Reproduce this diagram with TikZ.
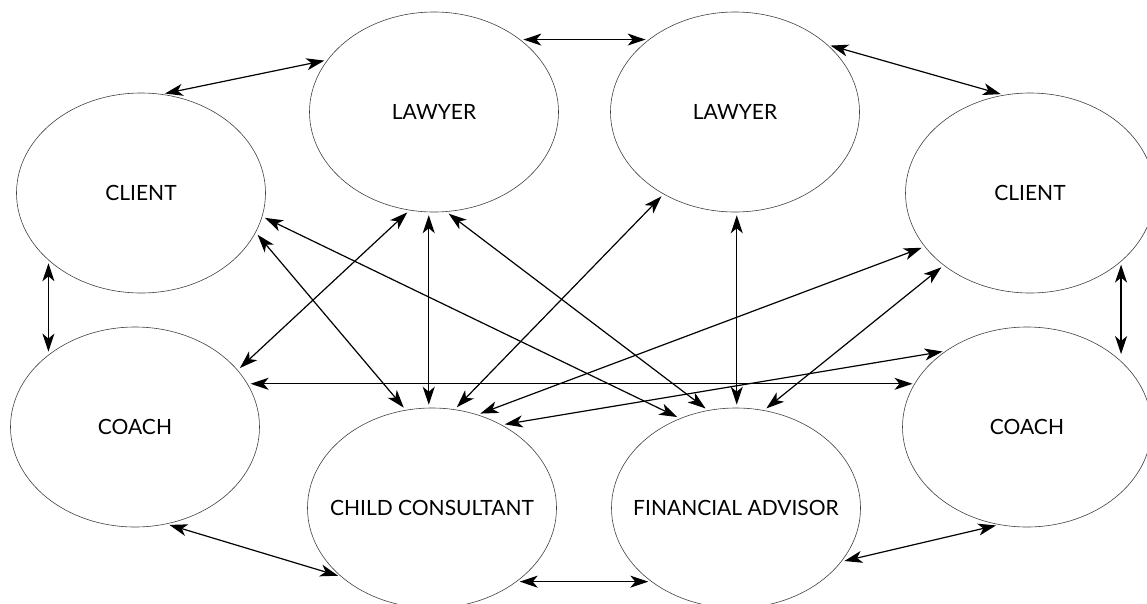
\documentclass[tikz,border=0pt]{standalone}
\usepackage{fontspec}
\setmainfont{Lato}
\usetikzlibrary{shapes.geometric,arrows.meta}
\tikzset{
  role/.style={ellipse, draw=black!75, line width=0.6pt, minimum width=249pt, minimum height=200pt, inner xsep=-25pt, inner ysep=0pt, font=\fontsize{21}{24}\selectfont},
  link/.style={line width=1.2pt, {Stealth[length=18pt,width=12pt,inset=5pt]}-{Stealth[length=18pt,width=12pt,inset=5pt]}, shorten <=3pt, shorten >=3pt}
}
\begin{document}
\begin{tikzpicture}[x=1pt,y=-1pt]
\useasboundingbox (0,0) rectangle (1147,603);
\node[role] (cl)  at (141,193) {CLIENT};
\node[role] (ll)  at (434,112) {LAWYER};
\node[role] (lr)  at (735,112) {LAWYER};
\node[role] (cr)  at (1030,193) {CLIENT};
\node[role] (col) at (135,427) {COACH};
\node[role] (ch)  at (432,508) {CHILD CONSULTANT};
\node[role] (fa)  at (736,508) {FINANCIAL ADVISOR};
\node[role] (cor) at (1027,427) {COACH};
% perimeter
\draw[link] (cl.78) -- (ll.154);
\draw[link] (ll.40) -- (lr.140);
\draw[link] (lr.36) -- (cr.105);
\draw[link] (cl.216) -- (cl.216 |- col.140);
\draw[link] (cr.-37) -- (cr.-37 |- cor.38);
\draw[link] (col.-72) -- (ch.-143);
\draw[link] (ch.-41) -- (fa.-139);
\draw[link] (fa.-27) -- (cor.-106);
% cross links
\draw[link] (cl.-11) -- (fa.122);
\draw[link] (cl.-19) -- (ch.105);
\draw[link] (ll.-104) -- (col.29);
\draw[link] (ll.-93) -- (ll.-93 |- ch.92);
\draw[link] (ll.-83) -- (fa.106);
\draw[link] (lr.-131) -- (ch.77);
\draw[link] (lr.-89) -- (lr.-89 |- fa.90);
\draw[link] (cr.-153) -- (ch.64);
\draw[link] (cr.-140) -- (fa.74);
\draw[link] (cor.137) -- (ch.50);
\draw[link] (col.21) -- (col.21 -| cor.158);
\end{tikzpicture}
\end{document}
